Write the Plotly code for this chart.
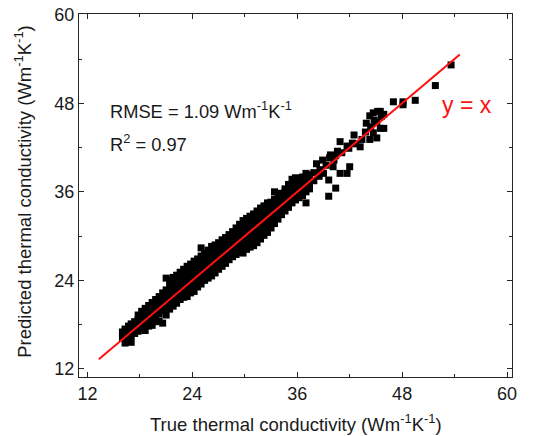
import plotly.graph_objects as go

# ---- data (W m^-1 K^-1) ----
# dense band: true value of each column and the predicted values stacked in it
band_true = [16.0, 16.3, 16.7, 17.0, 17.4, 17.8, 18.2, 18.6, 19.0, 19.4, 19.8, 20.2,
             20.6, 21.0, 21.4, 21.8, 22.2, 22.6, 23.0, 23.4, 23.8, 24.2, 24.6, 25.0,
             25.4, 25.8, 26.2, 26.6, 27.0, 27.4, 27.8, 28.2, 28.6, 29.0, 29.4, 29.8,
             30.2, 30.6, 31.0, 31.4, 31.8, 32.2, 32.6, 33.0, 33.4, 33.8, 34.2, 34.6,
             35.0, 35.4, 35.8, 36.2, 36.6, 37.0, 37.4]
band_pred = [
    [16.2, 17.0],
    [15.5, 16.6, 17.4],
    [16.2, 17.0, 17.8],
    [15.6, 16.5, 17.3, 18.1],
    [16.8, 17.6, 18.4],
    [17.1, 17.9, 18.7, 19.3],
    [17.4, 18.2, 19.0, 19.8],
    [17.2, 18.0, 18.8, 19.5, 20.2],
    [17.8, 18.5, 19.2, 20.0, 20.6],
    [17.9, 18.8, 19.6, 20.4, 21.0],
    [18.4, 19.2, 20.0, 20.8, 21.4],
    [18.5, 19.5, 20.3, 21.1, 21.8],
    [18.2, 19.9, 20.7, 21.5, 22.3],
    [19.3, 20.3, 21.1, 21.9, 22.7, 24.3],
    [20.1, 20.9, 21.7, 22.5, 23.2, 24.0],
    [20.5, 21.3, 22.1, 22.9, 23.6, 24.4],
    [20.9, 21.7, 22.5, 23.3, 24.0, 24.7],
    [21.4, 22.2, 23.0, 23.8, 24.5, 25.1],
    [21.7, 22.5, 23.3, 24.1, 24.9, 25.5],
    [21.8, 22.7, 23.5, 24.4, 25.2, 25.9],
    [22.3, 23.1, 23.9, 24.7, 25.5, 26.2],
    [22.5, 23.4, 24.2, 25.0, 25.8, 26.6],
    [23.1, 23.9, 24.7, 25.5, 26.2, 26.9],
    [23.5, 24.2, 25.0, 25.8, 26.5, 27.3, 28.4],
    [24.0, 24.7, 25.5, 26.3, 27.0, 27.7],
    [24.3, 25.0, 25.8, 26.6, 27.3, 28.1],
    [24.6, 25.4, 26.2, 27.0, 27.8, 28.6],
    [25.0, 25.8, 26.6, 27.4, 28.1, 28.8],
    [25.5, 26.2, 27.0, 27.8, 28.5, 29.1],
    [25.9, 26.6, 27.4, 28.2, 28.9, 29.5],
    [26.3, 27.0, 27.8, 28.6, 29.3, 29.8],
    [26.8, 27.5, 28.3, 29.0, 29.6, 30.2],
    [27.2, 27.9, 28.7, 29.4, 30.1, 30.6],
    [27.5, 28.3, 29.1, 29.8, 30.5, 31.1],
    [27.8, 28.6, 29.4, 30.2, 30.9, 31.6],
    [27.7, 28.5, 29.3, 30.1, 30.8, 31.5, 32.1],
    [28.2, 29.0, 29.8, 30.5, 31.2, 31.9, 32.4],
    [28.5, 29.3, 30.1, 30.9, 31.6, 32.3, 32.7],
    [28.7, 29.5, 30.3, 31.1, 31.9, 32.6, 33.0],
    [29.1, 29.9, 30.7, 31.5, 32.3, 33.0, 33.4],
    [29.6, 30.4, 31.2, 32.0, 32.7, 33.4, 33.8],
    [30.1, 30.9, 31.7, 32.4, 33.1, 33.8, 34.1],
    [30.5, 31.3, 32.1, 32.8, 33.5, 34.2, 34.5],
    [31.1, 31.8, 32.6, 33.3, 34.0, 34.6],
    [31.7, 32.4, 33.1, 33.8, 34.4, 35.0, 36.0],
    [32.3, 33.0, 33.7, 34.3, 34.9, 35.4],
    [32.9, 33.6, 34.2, 34.8, 35.4, 35.8],
    [33.4, 34.1, 34.7, 35.3, 35.9, 36.4],
    [33.9, 34.6, 35.2, 35.8, 36.4, 37.0],
    [34.5, 35.1, 35.7, 36.3, 37.0, 37.7],
    [34.9, 35.5, 36.1, 36.8, 37.5, 37.9],
    [35.2, 35.9, 36.5, 37.1, 37.6],
    [35.5, 36.2, 36.9, 37.5, 38.0],
    [34.5, 36.0, 36.7, 37.4, 38.1, 38.5],
    [36.4, 37.1, 37.8, 38.3],
]

# sparse points at the high end
sparse_true = [37.9, 37.9, 38.2, 38.5, 38.6, 38.9, 39.0, 39.3, 39.6, 39.6, 39.7, 39.8,
               40.1, 40.2, 40.4, 40.4, 40.6, 40.9, 40.9, 41.1, 41.7, 41.7, 41.9, 42.0,
               42.3, 42.5, 42.7, 43.2, 43.4, 43.8, 43.9, 44.3, 44.4, 44.3, 44.7, 44.8,
               44.7, 45.1, 45.2, 45.1, 45.5, 45.5, 45.6, 45.9, 45.9, 47.0, 48.1, 48.1,
               49.5, 51.8, 53.6]
sparse_pred = [37.5, 38.6, 39.8, 38.1, 39.0, 40.3, 38.5, 39.6, 35.4, 37.6, 40.6, 41.0,
               39.4, 40.3, 36.5, 40.9, 41.5, 42.8, 38.5, 41.3, 38.5, 42.2, 41.9, 39.4,
               42.6, 43.7, 42.5, 42.1, 43.1, 44.1, 45.3, 43.1, 44.8, 46.3, 46.7, 45.7,
               44.0, 43.3, 46.9, 45.4, 46.9, 44.6, 46.2, 44.6, 46.5, 48.2, 48.2, 47.8,
               48.4, 50.4, 53.2]

identity_ends = [13.3, 54.6]
tick_values = [12, 24, 36, 48, 60]
minor_tick_values = [18, 30, 42, 54]
x_title = "True thermal conductivity (Wm<sup>-1</sup>K<sup>-1</sup>)"
y_title = "Predicted thermal conductivity (Wm<sup>-1</sup>K<sup>-1</sup>)"
rmse_text = "RMSE = 1.09 Wm<sup>-1</sup>K<sup>-1</sup>"
r2_text = "R<sup>2</sup> = 0.97"
line_label = "y = x"

# build point lists for the library
true_tc = []
predicted_tc = []
for xv, ys in zip(band_true, band_pred):
    for yv in ys:
        true_tc.append(xv)
        predicted_tc.append(yv)
true_tc += sparse_true
predicted_tc += sparse_pred

FONT = "Liberation Sans, Arial, sans-serif"
AX = "#262626"
TXT = "#1a1a1a"
RED = "#ff1010"

fig = go.Figure()
fig.add_trace(go.Scatter(
    x=true_tc, y=predicted_tc, mode="markers",
    marker=dict(symbol="square", size=7, color="black", line=dict(width=0)),
    showlegend=False, hoverinfo="skip",
))
fig.add_trace(go.Scatter(
    x=identity_ends, y=identity_ends, mode="lines",
    line=dict(color=RED, width=2), showlegend=False, hoverinfo="skip",
))

axis_common = dict(
    tickmode="array", tickvals=tick_values,
    ticktext=[str(v) for v in tick_values],
    ticks="inside", ticklen=5, tickwidth=1, tickcolor=AX,
    showline=True, linecolor=AX, linewidth=1, mirror="ticks",
    showgrid=False, zeroline=False, automargin=False,
    tickfont=dict(family=FONT, size=18, color=TXT),
    minor=dict(ticks="inside", ticklen=3, tickwidth=1, tickcolor=AX,
               tickmode="array", tickvals=minor_tick_values),
)

fig.update_layout(
    width=548, height=436,
    margin=dict(l=79, r=36, t=14, b=59),
    paper_bgcolor="white", plot_bgcolor="white",
    font=dict(family=FONT, color=TXT),
    xaxis=dict(range=[11.03, 60.57], **axis_common),
    yaxis=dict(range=[10.9, 60.1], **axis_common),
    annotations=[
        dict(x=0.501, y=-0.127, xref="paper", yref="paper", text=x_title, showarrow=False,
             xanchor="center", yanchor="middle", font=dict(family=FONT, size=18.5, color=TXT)),
        dict(x=-0.128, y=0.512, xref="paper", yref="paper", text=y_title, showarrow=False,
             textangle=-90, xanchor="center", yanchor="middle",
             font=dict(family=FONT, size=18.5, color=TXT)),
        dict(x=14.35, y=47.1, xref="x", yref="y", text=rmse_text, showarrow=False,
             xanchor="left", yanchor="middle", font=dict(family=FONT, size=18.3, color=TXT)),
        dict(x=14.35, y=42.6, xref="x", yref="y", text=r2_text, showarrow=False,
             xanchor="left", yanchor="middle", font=dict(family=FONT, size=18.3, color=TXT)),
        dict(x=55.4, y=47.7, xref="x", yref="y", text=line_label, showarrow=False,
             xanchor="center", yanchor="middle", font=dict(family=FONT, size=23, color=RED)),
    ],
)

fig.write_html("out.html", config={"displayModeBar": False},
               post_script="document.body.style.margin='0';")
